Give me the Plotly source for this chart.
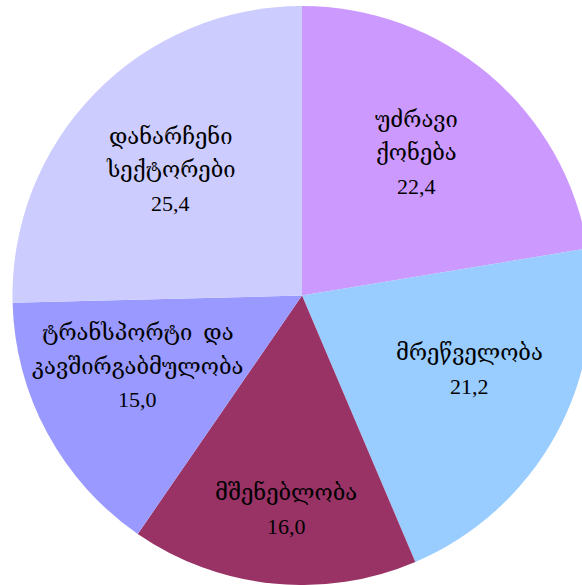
import math
import plotly.graph_objects as go

labels = ["უძრავი<br>ქონება", "მრეწველობა", "მშენებლობა",
          "ტრანსპორტი\u00a0\u00a0და<br>კავშირგაბმულობა", "დანარჩენი<br>სექტორები"]
values = [22.4, 21.2, 16.0, 15.0, 25.4]
colors = ["#CC99FF", "#99CCFF", "#993366", "#9999FF", "#CCCCFF"]

# layout constants
W, H = 610, 585
cx, cy, r = 302, 295.5, 289.5
label_radius = [0.632, 0.634, 0.741, 0.617, 0.628]   # fraction of pie radius
label_angle_shift = [-1.7, -5.0, -1.5, 5.1, -0.5]     # degrees from slice middle
line_gap = 33.5
font_family = "Liberation Serif, DejaVu Serif, DejaVu Sans, serif"
font_size = 22

fig = go.Figure(go.Pie(
    labels=labels,
    values=values,
    sort=False,
    direction="clockwise",
    rotation=0,
    marker=dict(colors=colors, line=dict(width=0)),
    textinfo="none",
    domain=dict(x=[(cx - r) / W, (cx + r) / W], y=[(H - cy - r) / H, (H - cy + r) / H]),
    showlegend=False,
    hoverinfo="skip",
))

total = sum(values)
cum = 0.0
annotations = []
for lab, val, rf, sh in zip(labels, values, label_radius, label_angle_shift):
    mid = (cum + val / 2) / total * 2 * math.pi + math.radians(sh)
    cum += val
    px = cx + rf * r * math.sin(mid)
    py = cy - rf * r * math.cos(mid)
    lines = lab.split("<br>") + [f"{val:.1f}".replace(".", ",")]
    n = len(lines)
    for i, t in enumerate(lines):
        off = (i - (n - 1) / 2) * line_gap
        annotations.append(dict(
            x=px / W, y=(H - py) / H, xref="paper", yref="paper",
            text=t, showarrow=False, xanchor="center", yanchor="middle",
            yshift=-off,
            font=dict(family=font_family, size=font_size, color="#000000"),
        ))

fig.update_layout(
    width=W, height=H,
    margin=dict(l=0, r=0, t=0, b=0),
    paper_bgcolor="white",
    annotations=annotations,
)

fig.write_html(
    "out.html",
    config={"displayModeBar": False},
    post_script="document.body.style.margin='0';document.body.style.overflow='hidden';document.documentElement.style.overflow='hidden';",
)
